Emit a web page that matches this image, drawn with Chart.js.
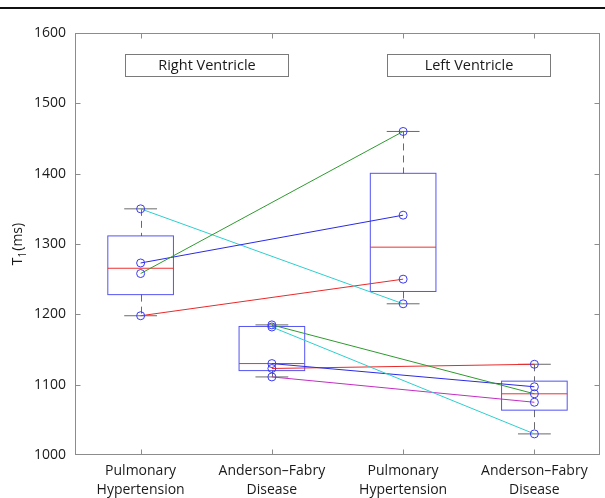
<!DOCTYPE html>
<html>
<head>
<meta charset="utf-8">
<script src="https://cdn.jsdelivr.net/npm/chart.js@4.4.0/dist/chart.umd.min.js"></script>
<style>
    html, body { margin: 0; padding: 0; background: #fff; }
    #wrap { position: relative; width: 605px; height: 498px; }
    #rule { position: absolute; left: 0; top: 7px; width: 605px; height: 2px; background: #111; }
</style>
</head>
<body>
<div id="wrap">
    <canvas id="chartT1" width="605" height="498"></canvas>
    <div id="rule"></div>
</div>
<script>
const categories = [['Pulmonary', 'Hypertension'], ['Anderson\u2013Fabry', 'Disease'], ['Pulmonary', 'Hypertension'], ['Anderson\u2013Fabry', 'Disease']]
const groupLabels = ['Right Ventricle', 'Left Ventricle']

// patients: pulmonary hypertension, right ventricle -> left ventricle
const phRV = [1258, 1273, 1350, 1198]
const phLV = [1460, 1341, 1215, 1250]
const phColors = ['#2e9a2e', '#2a2ae6', '#2ccfcf', '#e82a2a']

// patients: anderson-fabry disease, right ventricle -> left ventricle
const afdRV = [1185, 1182, 1130, 1123, 1111]
const afdLV = [1087, 1030, 1097, 1129, 1075]
const afdColors = ['#2e9a2e', '#2ccfcf', '#2a2ae6', '#e82a2a', '#c22ec2']

const yMin = 1000
const yMax = 1600
const yStep = 100

const FONT = '"Open Sans", "DejaVu Sans", sans-serif'
const FRAME = '#8c8c8c'
const MARKER = '#3a3af0'

// groups of the boxplot, in category order 1..4
const boxGroups = [phRV, afdRV, phLV, afdLV]

function prctile(values, p) {
    const s = [...values].sort((a, b) => a - b)
    const n = s.length
    const pos = p * n - 0.5
    if (pos <= 0) return s[0]
    if (pos >= n - 1) return s[n - 1]
    const i = Math.floor(pos)
    return s[i] + (pos - i) * (s[i + 1] - s[i])
}

function pairDatasets(from, to, xFrom, xTo, colors) {
    return from.map((v, i) => ({
        type: 'scatter',
        showLine: true,
        data: [{ x: xFrom, y: v }, { x: xTo, y: to[i] }],
        borderColor: colors[i],
        borderWidth: 1,
        pointRadius: 0,
        pointHoverRadius: 0,
        order: 2
    }))
}

const markerData = []
boxGroups.forEach((g, i) => g.forEach(v => markerData.push({ x: i + 1, y: v })))

const boxPlugin = {
    id: 'boxes',
    beforeDatasetsDraw(chart) {
        const ctx = chart.ctx
        const xs = chart.scales.x
        const ys = chart.scales.y
        ctx.save()
        boxGroups.forEach((g, i) => {
            const cx = xs.getPixelForValue(i + 1)
            const halfBox = (xs.getPixelForValue(1.25) - xs.getPixelForValue(1))
            const halfCap = halfBox / 2
            const q1 = ys.getPixelForValue(prctile(g, 0.25))
            const q3 = ys.getPixelForValue(prctile(g, 0.75))
            const med = ys.getPixelForValue(prctile(g, 0.5))
            const lo = ys.getPixelForValue(Math.min(...g))
            const hi = ys.getPixelForValue(Math.max(...g))

            // whiskers
            ctx.strokeStyle = '#6a6a6a'
            ctx.lineWidth = 1
            ctx.setLineDash([7, 5])
            ctx.beginPath()
            ctx.moveTo(Math.round(cx) + 0.5, hi)
            ctx.lineTo(Math.round(cx) + 0.5, q3)
            ctx.moveTo(Math.round(cx) + 0.5, q1)
            ctx.lineTo(Math.round(cx) + 0.5, lo)
            ctx.stroke()
            ctx.setLineDash([])
            ctx.beginPath()
            ctx.moveTo(cx - halfCap, hi)
            ctx.lineTo(cx + halfCap, hi)
            ctx.moveTo(cx - halfCap, lo)
            ctx.lineTo(cx + halfCap, lo)
            ctx.stroke()

            // box
            ctx.strokeStyle = 'rgba(40, 40, 240, 0.8)'
            ctx.strokeRect(cx - halfBox, q3, halfBox * 2, q1 - q3)

            // median
            ctx.strokeStyle = '#ee3030'
            ctx.beginPath()
            ctx.moveTo(cx - halfBox, med)
            ctx.lineTo(cx + halfBox, med)
            ctx.stroke()
        })
        ctx.restore()
    },
    afterDraw(chart) {
        const ctx = chart.ctx
        const a = chart.chartArea
        const xs = chart.scales.x
        const ys = chart.scales.y
        ctx.save()

        // frame and inward ticks
        ctx.strokeStyle = FRAME
        ctx.lineWidth = 1
        const L = Math.round(a.left) + 0.5
        const R = Math.round(a.right) - 0.5
        const T = Math.round(a.top) + 0.5
        const B = Math.round(a.bottom) - 0.5
        ctx.strokeRect(L, T, R - L, B - T)
        ctx.beginPath()
        for (let v = yMin + yStep; v < yMax; v += yStep) {
            const y = Math.round(ys.getPixelForValue(v)) + 0.5
            ctx.moveTo(L, y); ctx.lineTo(L + 5, y)
            ctx.moveTo(R, y); ctx.lineTo(R - 5, y)
        }
        categories.forEach((c, i) => {
            const x = Math.round(xs.getPixelForValue(i + 1)) + 0.5
            ctx.moveTo(x, B); ctx.lineTo(x, B - 5)
            ctx.moveTo(x, T); ctx.lineTo(x, T + 5)
        })
        ctx.stroke()

        // group label boxes
        groupLabels.forEach((label, i) => {
            const c = 1.5 + i * 2
            const x0 = Math.round(xs.getPixelForValue(c - 0.62)) + 0.5
            const x1 = Math.round(xs.getPixelForValue(c + 0.62)) + 0.5
            const y0 = Math.round(ys.getPixelForValue(1570)) + 0.5
            const y1 = Math.round(ys.getPixelForValue(1539)) + 0.5
            ctx.fillStyle = '#fff'
            ctx.fillRect(x0, y0, x1 - x0, y1 - y0)
            ctx.strokeStyle = '#7a7a7a'
            ctx.strokeRect(x0, y0, x1 - x0, y1 - y0)
            ctx.fillStyle = '#1a1a1a'
            ctx.font = '14.5px ' + FONT
            ctx.textAlign = 'center'
            ctx.textBaseline = 'middle'
            ctx.fillText(label, (x0 + x1) / 2, (y0 + y1) / 2)
        })

        // y title T1(ms), subscript 1
        ctx.translate(18, (a.top + a.bottom) / 2)
        ctx.rotate(-Math.PI / 2)
        ctx.fillStyle = '#1a1a1a'
        ctx.textBaseline = 'middle'
        ctx.textAlign = 'left'
        ctx.font = '14px ' + FONT
        const wT = ctx.measureText('T').width
        ctx.font = '10px ' + FONT
        const w1 = ctx.measureText('1').width
        ctx.font = '14px ' + FONT
        const wR = ctx.measureText('(ms)').width
        let x = -(wT + w1 + 1 + wR) / 2
        ctx.fillText('T', x, 0)
        x += wT
        ctx.font = '10px ' + FONT
        ctx.fillText('1', x, 5)
        x += w1 + 1
        ctx.font = '14px ' + FONT
        ctx.fillText('(ms)', x, 0)
        ctx.restore()
    }
}

new Chart(document.getElementById('chartT1'), {
    type: 'scatter',
    data: {
        datasets: [
            ...pairDatasets(phRV, phLV, 1, 3, phColors),
            ...pairDatasets(afdRV, afdLV, 2, 4, afdColors),
            {
                type: 'scatter',
                data: markerData,
                pointStyle: 'circle',
                pointRadius: 4,
                pointHoverRadius: 4,
                borderWidth: 1,
                borderColor: MARKER,
                backgroundColor: 'rgba(0,0,0,0)',
                order: 1
            }
        ]
    },
    options: {
        responsive: false,
        animation: false,
        events: [],
        layout: { padding: { top: 33, right: 2, left: 0, bottom: 0 } },
        plugins: { legend: { display: false }, tooltip: { enabled: false } },
        scales: {
            x: {
                type: 'linear',
                min: 0.5,
                max: 4.5,
                afterBuildTicks: s => { s.ticks = categories.map((c, i) => ({ value: i + 1 })) },
                afterFit: s => { s.height = 43 },
                grid: { display: false, drawTicks: false },
                border: { display: false },
                ticks: {
                    autoSkip: false,
                    maxRotation: 0,
                    padding: 7,
                    color: '#1a1a1a',
                    font: { family: FONT, size: 14, lineHeight: 1.35 },
                    callback: v => categories[v - 1]
                }
            },
            y: {
                min: yMin,
                max: yMax,
                afterFit: s => { s.width = 75 },
                grid: { display: false, drawTicks: false },
                border: { display: false },
                ticks: {
                    stepSize: yStep,
                    padding: 9,
                    color: '#1a1a1a',
                    font: { family: FONT, size: 14 },
                    callback: v => String(v)
                }
            }
        }
    },
    plugins: [boxPlugin]
})
</script>
</body>
</html>
